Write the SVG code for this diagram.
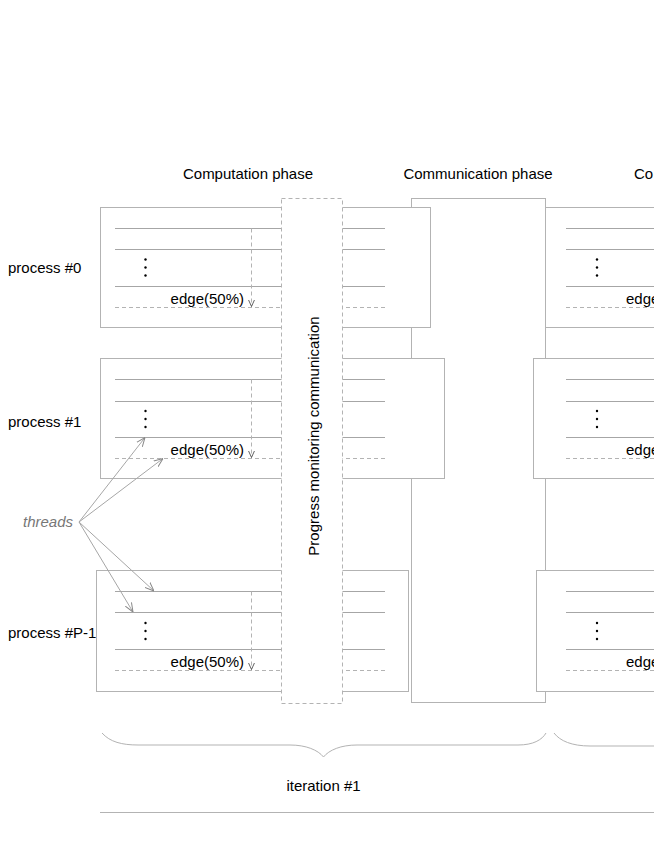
<svg xmlns="http://www.w3.org/2000/svg" width="654" height="846" viewBox="0 0 654 846">
<style>
text{font-family:"Liberation Sans",Arial,sans-serif;font-size:15px;fill:#000}
.box{fill:#fff;stroke:#b3b3b3;stroke-width:1}
.ln{stroke:#a6a6a6;stroke-width:1;fill:none}
.dl{stroke:#b3b3b3;stroke-width:1;stroke-dasharray:4,3;fill:none}
.pm{fill:#fff;stroke:#b3b3b3;stroke-width:1;stroke-dasharray:4,3}
.dot{fill:#000}
.thr{stroke:#a6a6a6;stroke-width:1;fill:none;marker-end:url(#ta)}
.edg{stroke:#b3b3b3;stroke-width:1;stroke-dasharray:4,3;fill:none;marker-end:url(#ea)}
.br{stroke:#b3b3b3;stroke-width:1;fill:none}
</style>
<defs>
<marker id="ta" viewBox="0 0 10 10" refX="10" refY="5" markerUnits="userSpaceOnUse" markerWidth="9" markerHeight="9" orient="auto">
<path d="M0,1 L10,5 L0,9" fill="none" stroke="#888" stroke-width="1.1"/>
</marker>
<marker id="ea" viewBox="0 0 10 10" refX="10" refY="5" markerUnits="userSpaceOnUse" markerWidth="7" markerHeight="8" orient="auto">
<path d="M0,0.5 L10,5 L0,9.5" fill="none" stroke="#444" stroke-width="1.2"/>
</marker>
</defs>

<g id="headers">
<text x="248" y="179" text-anchor="middle">Computation phase</text>
<text x="478" y="179" text-anchor="middle">Communication phase</text>
<text x="634" y="179">Co</text>
</g>

<g id="process-labels">
<text x="8" y="273">process #0</text>
<text x="8" y="427">process #1</text>
<text x="8" y="638">process #P-1</text>
</g>

<g id="communication-phase">
<rect class="box" x="411.5" y="198.5" width="134" height="504"/>
</g>

<g id="process0">
<rect class="box" x="100.5" y="207.5" width="330" height="120"/>
<path class="ln" d="M115,228.5H385M115,249.5H385M115,286.5H385"/>
<path class="dl" d="M115,307.5H385"/>
<circle class="dot" cx="145.5" cy="259.5" r="1.2"/><circle class="dot" cx="145.5" cy="267.5" r="1.2"/><circle class="dot" cx="145.5" cy="275.5" r="1.2"/>
<text x="244" y="303.5" text-anchor="end">edge(50%)</text>
</g>

<g id="process1">
<rect class="box" x="100.5" y="358.5" width="344" height="120"/>
<path class="ln" d="M115,379.5H385M115,401.5H385M115,437.5H385"/>
<path class="dl" d="M115,458.5H385"/>
<circle class="dot" cx="145.5" cy="411" r="1.2"/><circle class="dot" cx="145.5" cy="419" r="1.2"/><circle class="dot" cx="145.5" cy="427" r="1.2"/>
<text x="244" y="455" text-anchor="end">edge(50%)</text>
</g>

<g id="processP1">
<rect class="box" x="96.5" y="570.5" width="312" height="121"/>
<path class="ln" d="M115,591.5H385M115,612.5H385M115,649.5H385"/>
<path class="dl" d="M115,670.5H385"/>
<circle class="dot" cx="145.5" cy="623" r="1.2"/><circle class="dot" cx="145.5" cy="631" r="1.2"/><circle class="dot" cx="145.5" cy="639" r="1.2"/>
<text x="244" y="667" text-anchor="end">edge(50%)</text>
</g>

<g id="connectors">
<path class="edg" d="M251.5,228.5V306.5"/>
<path class="edg" d="M251.5,379.5V457.5"/>
<path class="edg" d="M251.5,591.5V669.5"/>
<path class="thr" d="M79,522L145,437.5"/>
<path class="thr" d="M79,522L163,458.5"/>
<path class="thr" d="M79,522L154,591"/>
<path class="thr" d="M79,522L133,612"/>
</g>

<g id="progress-monitoring">
<rect class="pm" x="281.5" y="198.5" width="61" height="505"/>
<text transform="translate(319,436) rotate(-90)" text-anchor="middle">Progress monitoring communication</text>
</g>

<g id="process0-next">
<rect class="box" x="545.5" y="207.5" width="200" height="120"/>
<path class="ln" d="M566,228.5H660M566,249.5H660M566,286.5H660"/>
<path class="dl" d="M566,307.5H660"/>
<circle class="dot" cx="597" cy="259.5" r="1.2"/><circle class="dot" cx="597" cy="267.5" r="1.2"/><circle class="dot" cx="597" cy="275.5" r="1.2"/>
<text x="626" y="303.5">edge</text>
</g>

<g id="process1-next">
<rect class="box" x="533.5" y="358.5" width="200" height="120"/>
<path class="ln" d="M566,379.5H660M566,401.5H660M566,437.5H660"/>
<path class="dl" d="M566,458.5H660"/>
<circle class="dot" cx="597" cy="411" r="1.2"/><circle class="dot" cx="597" cy="419" r="1.2"/><circle class="dot" cx="597" cy="427" r="1.2"/>
<text x="626" y="455">edge</text>
</g>

<g id="processP1-next">
<rect class="box" x="536.5" y="570.5" width="200" height="121"/>
<path class="ln" d="M566,591.5H660M566,612.5H660M566,649.5H660"/>
<path class="dl" d="M566,670.5H660"/>
<circle class="dot" cx="597" cy="623" r="1.2"/><circle class="dot" cx="597" cy="631" r="1.2"/><circle class="dot" cx="597" cy="639" r="1.2"/>
<text x="626" y="667">edge</text>
</g>

<g id="threads-label">
<text x="23" y="527" style="font-style:italic;fill:#777">threads</text>
</g>

<g id="iteration">
<path class="br" d="M102,733C110,742 122,745 138,745L290,745C306,745 318,750 323.5,757C329,750 341,745 357,745L518,745C533,745 542,740 546,733"/>
<path class="br" d="M554,733C560,741 572,746 590,746L660,746"/>
<text x="323.5" y="791" text-anchor="middle">iteration #1</text>
<path class="br" d="M100,812.5H660"/>
</g>
</svg>
